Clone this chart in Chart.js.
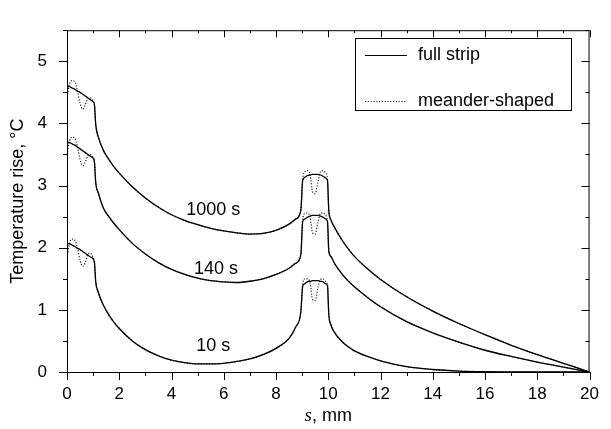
<!DOCTYPE html>
<html>
<head>
<meta charset="utf-8">
<script src="https://cdn.jsdelivr.net/npm/chart.js@4.4.1/dist/chart.umd.min.js"></script>
<style>
  html, body { margin: 0; padding: 0; background: #fff; }
  canvas { display: block; }
</style>
</head>
<body>
<canvas id="chart" width="611" height="429"></canvas>
<script>
// position along the strip, mm
const sValues = [
  0, 0.1, 0.2, 0.3, 0.4, 0.5, 0.6, 0.7, 0.8, 0.9,
  1.0, 1.05, 1.1, 1.2, 1.4, 1.6, 1.8, 2.0, 2.5, 3,
  3.5, 4, 4.5, 5, 5.5, 6, 6.5, 7, 7.5, 8,
  8.5, 8.75, 8.95, 9.02, 9.1, 9.2, 9.3, 9.4, 9.5, 9.6,
  9.7, 9.8, 9.9, 9.97, 10.02, 10.1, 10.25, 10.5, 10.75, 11,
  11.5, 12, 13, 14, 15, 16, 17, 18, 19, 20
];

// full strip, temperature rise in °C
const full1000 = [
  4.60, 4.59, 4.57, 4.55, 4.52, 4.50, 4.47, 4.44, 4.41, 4.38,
  4.35, 4.30, 3.98, 3.78, 3.56, 3.42, 3.30, 3.20, 2.98, 2.80,
  2.65, 2.53, 2.44, 2.37, 2.31, 2.27, 2.24, 2.22, 2.23, 2.28,
  2.38, 2.46, 2.60, 3.08, 3.13, 3.16, 3.17, 3.18, 3.18, 3.18,
  3.17, 3.15, 3.12, 3.08, 2.60, 2.45, 2.32, 2.14, 1.99, 1.86,
  1.66, 1.49, 1.21, 0.98, 0.78, 0.60, 0.43, 0.28, 0.14, 0
];
const full140 = [
  3.70, 3.69, 3.67, 3.65, 3.62, 3.59, 3.56, 3.53, 3.50, 3.47,
  3.44, 3.38, 3.05, 2.88, 2.63, 2.50, 2.39, 2.29, 2.07, 1.90,
  1.76, 1.65, 1.57, 1.51, 1.47, 1.45, 1.44, 1.46, 1.50, 1.57,
  1.67, 1.75, 1.89, 2.42, 2.46, 2.49, 2.51, 2.52, 2.52, 2.52,
  2.51, 2.49, 2.46, 2.42, 1.95, 1.86, 1.74, 1.59, 1.47, 1.37,
  1.20, 1.05, 0.81, 0.63, 0.48, 0.35, 0.25, 0.16, 0.08, 0
];
const full10 = [
  2.07, 2.06, 2.04, 2.02, 1.99, 1.97, 1.94, 1.91, 1.88, 1.85,
  1.82, 1.76, 1.45, 1.28, 1.07, 0.92, 0.80, 0.70, 0.50, 0.36,
  0.26, 0.19, 0.15, 0.13, 0.13, 0.14, 0.17, 0.21, 0.28, 0.38,
  0.54, 0.72, 0.97, 1.38, 1.42, 1.45, 1.46, 1.47, 1.47, 1.47,
  1.46, 1.45, 1.42, 1.39, 0.93, 0.76, 0.63, 0.50, 0.41, 0.34,
  0.25, 0.18, 0.086, 0.04, 0.015, 0.006, 0.003, 0.001, 0.0005, 0
];

// meander-shaped strip
const meander1000 = [
  4.42, 4.64, 4.69, 4.67, 4.52, 4.32, 4.23, 4.30, 4.40, 4.41,
  4.36, 4.30, 3.98, 3.78, 3.56, 3.42, 3.30, 3.20, 2.98, 2.80,
  2.65, 2.53, 2.44, 2.37, 2.31, 2.27, 2.24, 2.22, 2.23, 2.28,
  2.38, 2.46, 2.60, 3.10, 3.22, 3.24, 3.18, 2.90, 2.87, 3.05,
  3.22, 3.24, 3.20, 3.10, 2.60, 2.45, 2.32, 2.14, 1.99, 1.86,
  1.66, 1.49, 1.21, 0.98, 0.78, 0.60, 0.43, 0.28, 0.14, 0
];
const meander140 = [
  3.50, 3.72, 3.78, 3.76, 3.62, 3.42, 3.32, 3.38, 3.48, 3.50,
  3.45, 3.38, 3.05, 2.88, 2.63, 2.50, 2.39, 2.29, 2.07, 1.90,
  1.76, 1.65, 1.57, 1.51, 1.47, 1.45, 1.44, 1.46, 1.50, 1.57,
  1.67, 1.75, 1.89, 2.44, 2.55, 2.56, 2.50, 2.24, 2.22, 2.40,
  2.55, 2.56, 2.52, 2.44, 1.95, 1.86, 1.74, 1.59, 1.47, 1.37,
  1.20, 1.05, 0.81, 0.63, 0.48, 0.35, 0.25, 0.16, 0.08, 0
];
const meander10 = [
  1.84, 2.08, 2.14, 2.12, 2.00, 1.80, 1.70, 1.76, 1.90, 1.91,
  1.84, 1.76, 1.45, 1.28, 1.07, 0.92, 0.80, 0.70, 0.50, 0.36,
  0.26, 0.19, 0.15, 0.13, 0.13, 0.14, 0.17, 0.21, 0.28, 0.38,
  0.54, 0.72, 0.97, 1.40, 1.50, 1.50, 1.44, 1.17, 1.15, 1.35,
  1.49, 1.50, 1.46, 1.40, 0.93, 0.76, 0.63, 0.50, 0.41, 0.34,
  0.25, 0.18, 0.086, 0.04, 0.015, 0.006, 0.003, 0.001, 0.0005, 0
];

const xTicks = [0, 2, 4, 6, 8, 10, 12, 14, 16, 18, 20];
const yTicks = [0, 1, 2, 3, 4, 5];
const curveNames = ["1000 s", "140 s", "10 s"];
const legendNames = ["full strip", "meander-shaped"];

const FONT = "'Liberation Sans', Arial, Helvetica, sans-serif";

const toPoints = (ys) => sValues.map((s, i) => ({ x: s, y: ys[i] }));

function lineSet(ys, dotted) {
  return {
    data: toPoints(ys),
    borderColor: dotted ? "#222" : "#000",
    borderWidth: dotted ? 1.2 : 1.3,
    borderDash: dotted ? [1.2, 1.6] : [],
    pointRadius: 0,
    cubicInterpolationMode: "monotone",
    fill: false,
  };
}

// frame with Origin-style ticks (out on left/bottom, in on top/right)
const frameTicks = {
  id: "frameTicks",
  afterDraw(chart) {
    const { ctx, chartArea: a, scales: { x, y } } = chart;
    ctx.save();
    ctx.strokeStyle = "#000";
    ctx.lineWidth = 1;
    ctx.strokeRect(a.left + 0.5, a.top + 0.5, a.right - a.left - 1, a.bottom - a.top);
    ctx.beginPath();
    for (let v = xTicks[0]; v <= xTicks[xTicks.length - 1]; v += 1) {
      const len = xTicks.includes(v) ? 8 : 4;
      const px = Math.round(x.getPixelForValue(v)) + 0.5;
      ctx.moveTo(px, a.bottom);
      ctx.lineTo(px, a.bottom + len);
      ctx.moveTo(px, a.top);
      ctx.lineTo(px, a.top + len - 1);
    }
    for (let v = 0; v <= y.max; v += 0.5) {
      const len = yTicks.includes(v) ? 8 : 4;
      const py = Math.round(y.getPixelForValue(v)) + 0.5;
      ctx.moveTo(a.left, py);
      ctx.lineTo(a.left - len, py);
      ctx.moveTo(a.right, py);
      ctx.lineTo(a.right - len, py);
    }
    ctx.stroke();
    ctx.restore();
  },
};

// time labels on the curves, x axis title and legend box
const annotations = {
  id: "annotations",
  afterDraw(chart) {
    const { ctx, chartArea: a, scales: { x, y } } = chart;
    ctx.save();
    ctx.fillStyle = "#000";
    ctx.font = "18px " + FONT;
    ctx.textAlign = "center";
    ctx.textBaseline = "middle";
    const spots = [[5.6, 2.61], [5.7, 1.66], [5.6, 0.41]];
    curveNames.forEach((name, i) => {
      ctx.fillText(name, x.getPixelForValue(spots[i][0]), y.getPixelForValue(spots[i][1]));
    });

    // x title: italic s, then ", mm"
    const cx = (a.left + a.right) / 2;
    ctx.textAlign = "left";
    ctx.font = "italic 19px 'Liberation Serif', 'Times New Roman', serif";
    const sW = ctx.measureText("s").width;
    ctx.font = "18px " + FONT;
    const restW = ctx.measureText(", mm").width;
    const x0 = cx - (sW + restW) / 2;
    ctx.font = "italic 19px 'Liberation Serif', 'Times New Roman', serif";
    ctx.fillText("s", x0, 416);
    ctx.font = "18px " + FONT;
    ctx.fillText(", mm", x0 + sW, 416);

    // legend
    ctx.strokeStyle = "#000";
    ctx.lineWidth = 1;
    ctx.strokeRect(355.5, 38.5, 216, 72);
    ctx.beginPath();
    ctx.moveTo(365, 55.5);
    ctx.lineTo(407, 55.5);
    ctx.stroke();
    ctx.setLineDash([1.2, 1.6]);
    ctx.strokeStyle = "#222";
    ctx.beginPath();
    ctx.moveTo(365, 101.5);
    ctx.lineTo(407, 101.5);
    ctx.stroke();
    ctx.setLineDash([]);
    ctx.fillText(legendNames[0], 418, 55);
    ctx.fillText(legendNames[1], 418, 101);
    ctx.restore();
  },
};

new Chart(document.getElementById("chart"), {
  type: "line",
  data: {
    datasets: [
      lineSet(full1000, false),
      lineSet(full140, false),
      lineSet(full10, false),
      lineSet(meander1000, true),
      lineSet(meander140, true),
      lineSet(meander10, true),
    ],
  },
  options: {
    responsive: false,
    animation: false,
    devicePixelRatio: 1,
    layout: { padding: { left: 0, right: 11, top: 8, bottom: 0 } },
    plugins: { legend: { display: false }, tooltip: { enabled: false } },
    scales: {
      x: {
        type: "linear",
        min: 0,
        max: 20,
        afterBuildTicks: (scale) => { scale.ticks = xTicks.map((v) => ({ value: v })); },
        afterFit: (scale) => { scale.height = 57; },
        grid: { display: false, drawTicks: false },
        border: { display: false },
        ticks: { color: "#000", padding: 12, maxRotation: 0, font: { size: 17, family: FONT } },
      },
      y: {
        min: 0,
        max: 5.5,
        afterBuildTicks: (scale) => { scale.ticks = yTicks.map((v) => ({ value: v })); },
        afterFit: (scale) => { scale.width = 67; },
        grid: { display: false, drawTicks: false },
        border: { display: false },
        ticks: { color: "#000", padding: 20, font: { size: 17, family: FONT } },
        title: {
          display: true,
          text: "Temperature rise, °C",
          color: "#000",
          font: { size: 18, family: FONT },
          padding: { top: 7, bottom: 0 },
        },
      },
    },
  },
  plugins: [frameTicks, annotations],
});
</script>
</body>
</html>
